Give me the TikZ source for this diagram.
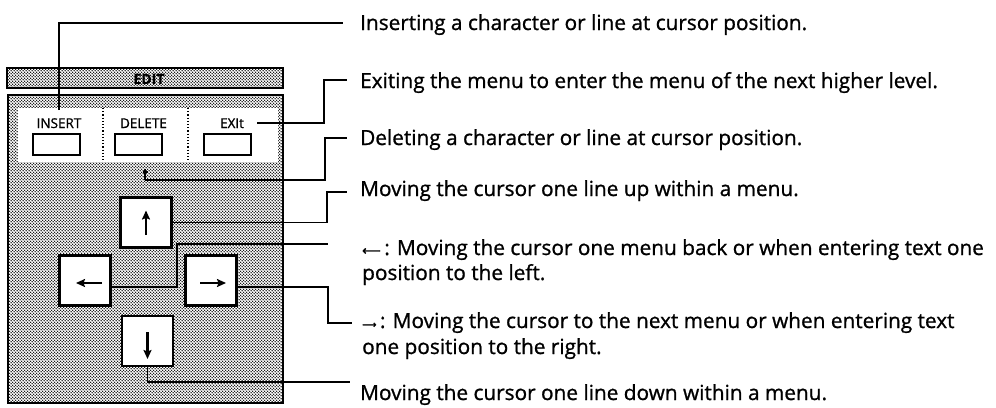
\documentclass[tikz,border=0pt]{standalone}
\usepackage{fontspec}
\setmainfont{Open Sans}[FakeBold=1.0]
\newfontfamily\symf{DejaVu Sans}[FakeBold=1.5]
\usetikzlibrary{patterns,arrows.meta,calc}
\pgfdeclarepatternformonly{halftone}{\pgfqpoint{0pt}{0pt}}{\pgfqpoint{3.4pt}{3.4pt}}{\pgfqpoint{3.4pt}{3.4pt}}{%
  \pgfpathcircle{\pgfqpoint{0.85pt}{0.85pt}}{0.88pt}%
  \pgfpathcircle{\pgfqpoint{2.55pt}{2.55pt}}{0.88pt}%
  \pgfusepath{fill}}
\newlength\refwd
\begin{document}
\settowidth\refwd{\fontsize{10}{12}\selectfont Inserting a character or line at cursor position.}%
\pgfmathsetmacro\fsz{4470/\refwd}%
\begin{tikzpicture}[x=1pt,y=-1pt,
  conn/.style={line width=1.8pt},
  keybox/.style={draw, fill=white, line width=2.3pt, minimum width=51pt, minimum height=50pt, inner sep=0pt},
  btnbox/.style={draw, fill=white, line width=2pt, minimum width=47pt, minimum height=21pt, inner sep=0pt},
  lbl/.style={font=\fontsize{13.5}{14}\selectfont, inner sep=0pt, anchor=base},
  shade/.style={pattern=halftone, pattern color=black},
  keyarrow/.style={line width=2.2pt, -{Stealth[length=9pt,width=8pt,inset=1.5pt]}},
  sep/.style={line width=1.1pt, dash pattern=on 1.2pt off 2pt},
  desc/.style={font=\fontsize{\fsz}{\fsz}\selectfont, inner sep=0pt, anchor=base west},
]
\useasboundingbox (0,0) rectangle (996,407);

% title bar
\node[draw, line width=2.2pt, shade, minimum width=276pt, minimum height=20pt, inner sep=0pt] (bar) at (145,78) {};
\node[font=\bfseries\fontsize{14}{14}\selectfont, inner sep=0pt] (edit) at (149,79) {EDIT};

% panel
\node[draw, line width=2.6pt, shade, minimum width=275pt, minimum height=308pt, inner sep=0pt] (panel) at (145.5,249) {};
\node[fill=white, minimum width=260pt, minimum height=54pt, inner sep=0pt] (soft) at (148,135) {};
\draw[sep] (103,108) -- (103,162);
\draw[sep] (188,108) -- (188,162);

% soft keys
\node[lbl] (lI) at (59,128) {INSERT};
\node[lbl] (lD) at (143.5,128) {DELETE};
\node[lbl] (lE) at (232,128) {EXIt};
\node[btnbox] (bI) at (56.5,144) {};
\node[btnbox] (bD) at (138.5,144) {};
\node[btnbox] (bE) at (227.5,144) {};

% cursor mark
\coordinate (dm) at (145,180);
\draw[line width=1.4pt] (145,169) -- (dm);
\draw[line width=1.2pt] (142.5,172) -- (147.5,172);

% cursor keys
\node[keybox] (kup) at (146,222.5) {};
\node[keybox] (kl) at (85,280.5) {};
\node[keybox] (kr) at (211,280.5) {};
\node[keybox] (kd) at (147.5,341) {};
\draw[keyarrow] ($(kup.center)+(0,12.5)$) -- ($(kup.center)+(0,-12)$);
\draw[keyarrow] ($(kl.center)+(17,2.5)$) -- ($(kl.center)+(-9,2.5)$);
\draw[keyarrow] ($(kr.center)+(-11,2.5)$) -- ($(kr.center)+(15,2.5)$);
\draw[keyarrow] ($(kd.center)+(0,-9)$) -- ($(kd.center)+(0,18)$);

% descriptions
\node[desc] (t1) at (360,30) {Inserting a character or line at cursor position.};
\node[desc] (t2) at (360,88) {Exiting the menu to enter the menu of the next higher level.};
\node[desc] (t3) at (360,145) {Deleting a character or line at cursor position.};
\node[desc] (t4) at (360,196) {Moving the cursor one line up within a menu.};
\node[desc] (t5a) at (362,255) {{\symf\fontsize{13}{13}\selectfont ⟵}\,: Moving the cursor one menu back or when entering text one};
\node[desc] (t5b) at (362,280) {position to the left.};
\node[desc] (t6a) at (362,328) {{\symf\fontsize{10}{10}\selectfont ⟶}\,: Moving the cursor to the next menu or when entering text};
\node[desc] (t6b) at (362,354) {one position to the right.};
\node[desc] (t7) at (360,400) {Moving the cursor one line down within a menu.};

% connectors
\coordinate (e1) at (343,23);
\coordinate (b2) at (324,80);  \coordinate (e2) at (347,80);
\coordinate (b3) at (325,138); \coordinate (e3) at (347,138);
\coordinate (b4) at (327,192); \coordinate (e4) at (347,192);
\coordinate (b5) at (177,244); \coordinate (e5) at (328,244);
\coordinate (b6) at (328,323); \coordinate (e6) at (352,323);
\coordinate (e7) at (350,382);
\draw[conn] ([yshift=8pt]lI.north) |- (e1);
\draw[conn] ([xshift=13pt]lE.east) -| (b2) -- (e2);
\draw[conn] (dm) -| (b3) -- (e3);
\draw[conn] (kup.east) -| (b4) -- (e4);
\draw[conn] ([yshift=-6.5pt]kl.east) -| (b5) -- (e5);
\draw[conn] ([yshift=-6.5pt]kr.east) -| (b6) -- (e6);
\draw[conn] (kd.south) |- (e7);
\end{tikzpicture}
\end{document}
